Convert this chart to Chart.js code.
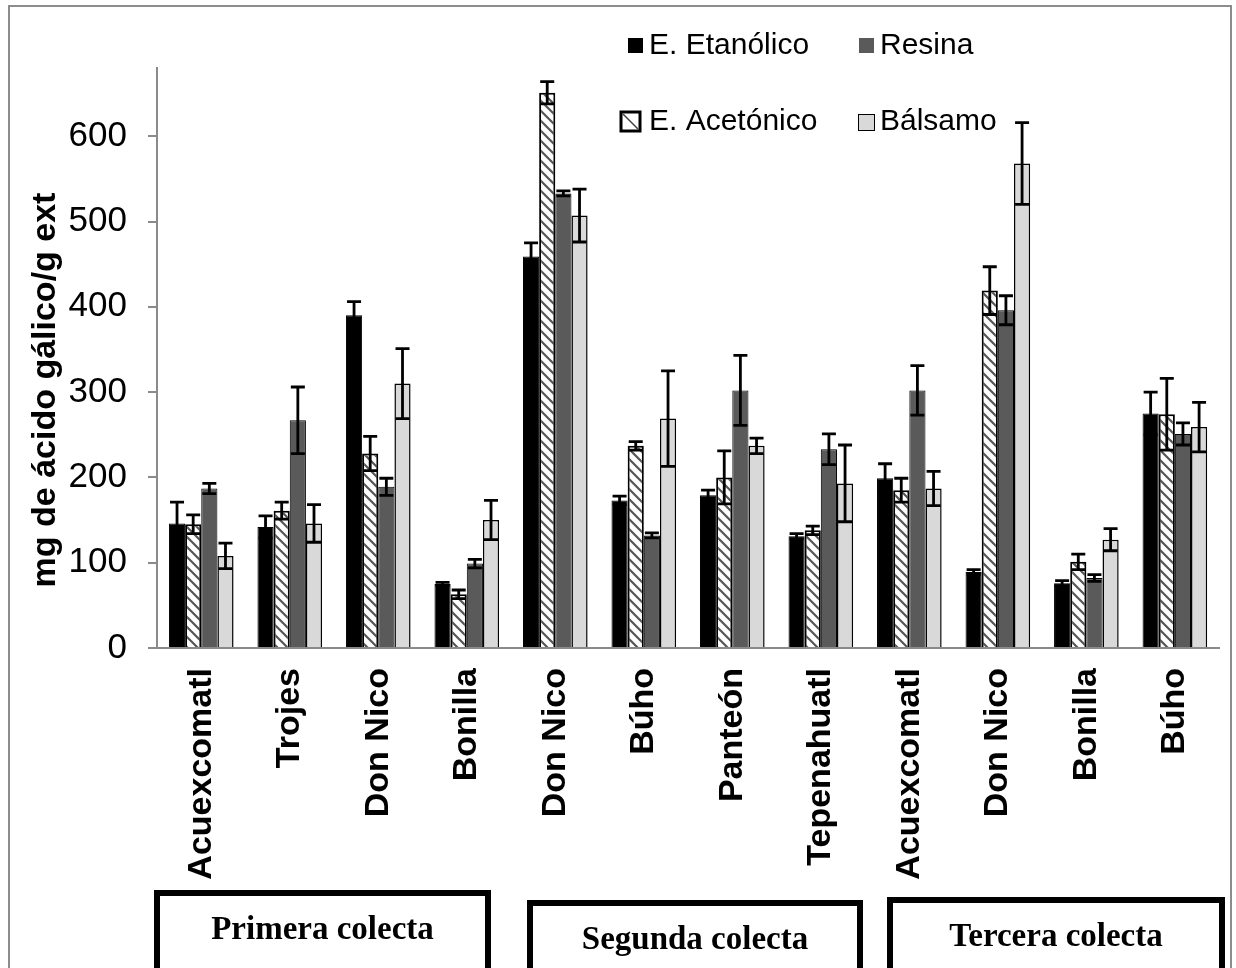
<!DOCTYPE html>
<html>
<head>
<meta charset="utf-8">
<script src="https://cdn.jsdelivr.net/npm/chart.js@4.4.1/dist/chart.umd.min.js"></script>
<style>
  body { margin: 0; background: #fff; }
  canvas { display: block; }
</style>
</head>
<body>
<canvas id="grafico" width="1236" height="968"></canvas>
<script>
// datos
const sitios = ["Acuexcomatl", "Trojes", "Don Nico", "Bonilla", "Don Nico", "Búho", "Panteón", "Tepenahuatl", "Acuexcomatl", "Don Nico", "Bonilla", "Búho"];
const etanolico = [146, 142, 390, 75, 459, 173, 179, 131, 199, 89, 76, 275];
const etanolicoErr = [25, 13, 16, 2, 16, 5, 6, 3, 17, 3, 3, 25];
const acetonico = [145, 161, 228, 63, 651, 237, 200, 138, 185, 419, 101, 274];
const acetonicoErr = [11, 10, 20, 5, 13, 5, 31, 5, 14, 28, 9, 42];
const resina = [187, 267, 189, 99, 533, 132, 302, 233, 302, 396, 82, 251];
const resinaErr = [6, 39, 10, 5, 3, 3, 41, 18, 29, 17, 4, 13];
const balsamo = [108, 146, 310, 150, 507, 269, 237, 193, 187, 568, 127, 259];
const balsamoErr = [15, 22, 41, 23, 31, 56, 9, 45, 20, 48, 13, 29];
const colectas = ["Primera colecta", "Segunda colecta", "Tercera colecta"];
const tituloY = "mg de ácido gálico/g ext";

// trama diagonal para E. Acetonico
function crearTrama() {
    const c = document.createElement("canvas");
    c.width = 10; c.height = 10;
    const g = c.getContext("2d");
    g.fillStyle = "#fff";
    g.fillRect(0, 0, 10, 10);
    g.strokeStyle = "#555";
    g.lineWidth = 2.2;
    g.beginPath();
    g.moveTo(-2, -2); g.lineTo(12, 12);
    g.moveTo(-2, 8); g.lineTo(2, 12);
    g.moveTo(8, -2); g.lineTo(12, 2);
    g.stroke();
    return g.createPattern(c, "repeat");
}
const trama = crearTrama();

const errores = [etanolicoErr, acetonicoErr, resinaErr, balsamoErr];

// cajas de colecta: izquierda, derecha, arriba
const cajas = [[157, 488, 893], [530, 860, 903], [890, 1222, 900]];

const pluginExtras = {
    id: "extras",
    afterDatasetsDraw(chart) {
        const ctx = chart.ctx;
        const y = chart.scales.y;
        ctx.save();
        ctx.strokeStyle = "#000";
        ctx.lineWidth = 2.8;
        chart.data.datasets.forEach((ds, i) => {
            const meta = chart.getDatasetMeta(i);
            meta.data.forEach((bar, j) => {
                const v = ds.data[j], e = errores[i][j];
                const y1 = y.getPixelForValue(v + e), y2 = y.getPixelForValue(v - e);
                ctx.beginPath();
                ctx.moveTo(bar.x, y1); ctx.lineTo(bar.x, y2);
                ctx.moveTo(bar.x - 7, y1); ctx.lineTo(bar.x + 7, y1);
                ctx.moveTo(bar.x - 7, y2); ctx.lineTo(bar.x + 7, y2);
                ctx.stroke();
            });
        });
        ctx.restore();
    },
    afterDraw(chart) {
        const ctx = chart.ctx;
        ctx.save();
        // marco exterior
        ctx.strokeStyle = "#8c8c8c";
        ctx.lineWidth = 2;
        ctx.strokeRect(9, 6, 1222, 990);

        // titulo del eje y
        ctx.save();
        ctx.translate(46, 390);
        ctx.rotate(-Math.PI / 2);
        ctx.font = "bold 34px 'Liberation Sans', Arial, sans-serif";
        ctx.textAlign = "center";
        ctx.textBaseline = "middle";
        ctx.fillStyle = "#000";
        ctx.fillText(tituloY, 0, 0);
        ctx.restore();

        // leyenda en dos filas
        ctx.font = "30px 'Liberation Sans', Arial, sans-serif";
        ctx.textBaseline = "middle";
        const ds = chart.data.datasets;
        ctx.fillStyle = ds[0].backgroundColor;
        ctx.fillRect(628, 38, 15, 15);
        ctx.fillStyle = ds[2].backgroundColor;
        ctx.fillRect(859, 38, 15, 15);
        ctx.fillStyle = "#000";
        ctx.fillText(ds[0].label, 649, 46);
        ctx.fillText(ds[2].label, 880, 46);
        ctx.fillStyle = "#fff";
        ctx.fillRect(621, 112, 19, 19);
        ctx.strokeStyle = "#000";
        ctx.lineWidth = 3;
        ctx.strokeRect(621, 112, 19, 19);
        ctx.lineWidth = 1.5;
        ctx.strokeStyle = "#444";
        ctx.beginPath(); ctx.moveTo(623, 114); ctx.lineTo(638, 129); ctx.stroke();
        ctx.fillStyle = ds[3].backgroundColor;
        ctx.fillRect(858, 114, 16, 16);
        ctx.strokeStyle = "#000";
        ctx.lineWidth = 1;
        ctx.strokeRect(858.5, 114.5, 16, 16);
        ctx.fillStyle = "#000";
        ctx.fillText(ds[1].label, 649, 122);
        ctx.fillText(ds[3].label, 880, 122);

        // cajas de colecta
        ctx.font = "bold 33px 'Liberation Serif', 'Times New Roman', serif";
        ctx.textAlign = "center";
        colectas.forEach((nombre, k) => {
            const [izq, der, arriba] = cajas[k];
            ctx.strokeStyle = "#000";
            ctx.lineWidth = 6;
            ctx.strokeRect(izq, arriba, der - izq, 100);
            ctx.fillStyle = "#000";
            ctx.fillText(nombre, (izq + der) / 2, arriba + 37);
        });
        ctx.restore();
    }
};

const ctx = document.getElementById("grafico").getContext("2d");
new Chart(ctx, {
    type: "bar",
    data: {
        labels: sitios,
        datasets: [
            { label: "E. Etanólico", data: etanolico, backgroundColor: "#000000", borderColor: "#000", borderWidth: 1 },
            { label: "E. Acetónico", data: acetonico, backgroundColor: trama, borderColor: "#000", borderWidth: 2 },
            { label: "Resina", data: resina, backgroundColor: "#5a5a5a", borderColor: "#000", borderWidth: 1 },
            { label: "Bálsamo", data: balsamo, backgroundColor: "#d9d9d9", borderColor: "#000", borderWidth: 1.5 }
        ]
    },
    options: {
        responsive: false,
        animation: false,
        layout: { padding: { left: 0, top: 68, right: 8, bottom: 0 } },
        datasets: { bar: { barPercentage: 1, categoryPercentage: 0.73 } },
        plugins: { legend: { display: false }, tooltip: { enabled: false } },
        scales: {
            x: {
                grid: { display: false, drawTicks: false },
                border: { color: "#8a8a8a", width: 2 },
                ticks: {
                    minRotation: 90, maxRotation: 90, autoSkip: false, padding: 20,
                    color: "#000",
                    font: { family: "'Liberation Sans', Arial, sans-serif", size: 34, weight: "bold" }
                },
                afterFit: s => { s.height = 320; }
            },
            y: {
                min: 0, max: 680,
                afterBuildTicks: s => { s.ticks = s.ticks.filter(t => t.value % 100 === 0); },
                ticks: {
                    stepSize: 100, padding: 21,
                    color: "#000",
                    font: { family: "'Liberation Sans', Arial, sans-serif", size: 35 }
                },
                grid: { drawOnChartArea: false, tickLength: 9, color: "#8a8a8a", lineWidth: 2 },
                border: { color: "#8a8a8a", width: 2 },
                afterFit: s => { s.width = 157; }
            }
        }
    },
    plugins: [pluginExtras]
});
</script>
</body>
</html>
